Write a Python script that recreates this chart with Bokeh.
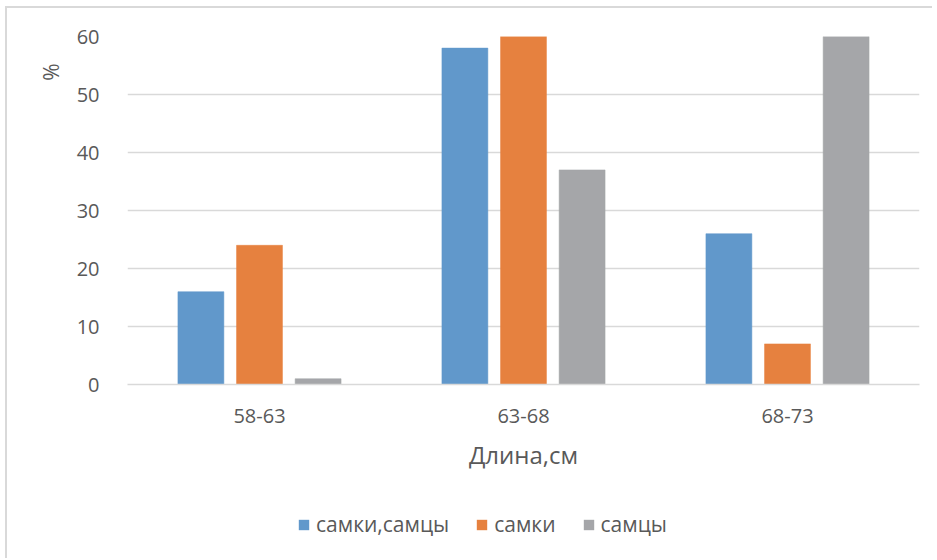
import math
from bokeh.plotting import figure
from bokeh.layouts import column
from bokeh.models import (FactorRange, Range1d, Legend, LegendItem, Title,
                          ColumnDataSource, FixedTicker)
from bokeh.transform import dodge
from bokeh.embed import file_html
from bokeh.resources import INLINE

categories = ["58-63", "63-68", "68-73"]
both_sexes = [16, 58, 26]     # самки,самцы
females = [24, 60, 7]         # самки
males = [1, 37, 60]           # самцы
series_names = ["самки,самцы", "самки", "самцы"]
y_ticks = [0, 10, 20, 30, 40, 50, 60]
x_title = "Длина,см"
y_title = "%"

colors = ["#6198CB", "#E6813F", "#A5A6A9"]
FONT = "Open Sans"
TXT = "#595959"

src = ColumnDataSource(dict(cat=categories, both=both_sexes, fem=females, mal=males))

p = figure(x_range=FactorRange(*categories, range_padding=0),
           y_range=Range1d(0, 60),
           width=925, height=470,
           output_backend="svg", toolbar_location=None,
           min_border_left=120, min_border_right=13,
           min_border_top=28, min_border_bottom=94)

offs = [-0.222, 0.0, 0.222]
cols = ["both", "fem", "mal"]
for c, o, col in zip(cols, offs, colors):
    p.vbar(x=dodge("cat", o, range=p.x_range), top=c, width=0.174,
           source=src, fill_color=col, line_color=col, line_width=0.5)

p.outline_line_color = None
p.xgrid.grid_line_color = None
p.ygrid.grid_line_color = "#d9d9d9"
p.ygrid.grid_line_width = 1.3

p.yaxis.ticker = FixedTicker(ticks=y_ticks)
p.yaxis.axis_line_color = None
p.yaxis.major_tick_line_color = None
p.yaxis.minor_tick_line_color = None
p.yaxis.major_label_standoff = 22
p.yaxis.major_label_text_font = FONT
p.yaxis.major_label_text_font_size = "20px"
p.yaxis.major_label_text_color = TXT

p.xaxis.axis_line_color = "#d9d9d9"
p.xaxis.axis_line_width = 1.5
p.xaxis.major_tick_line_color = None
p.xaxis.minor_tick_line_color = None
p.xaxis.major_label_standoff = 18
p.xaxis.major_label_text_font = FONT
p.xaxis.major_label_text_font_size = "20px"
p.xaxis.major_label_text_color = TXT
p.xaxis.axis_label = x_title
p.xaxis.axis_label_standoff = 12
p.xaxis.axis_label_text_font = FONT
p.xaxis.axis_label_text_font_size = "24px"
p.xaxis.axis_label_text_font_style = "normal"
p.xaxis.axis_label_text_color = TXT

ytitle = Title(text=y_title, align="right", offset=27, standoff=17,
               text_font=FONT, text_font_size="21px", text_font_style="normal",
               text_color=TXT)
p.add_layout(ytitle, "left")

# legend figure: the same series, drawn outside its visible y window, so only the legend shows
lg = figure(x_range=FactorRange(*categories, range_padding=0), y_range=Range1d(1000, 1001),
            width=925, height=80,
            output_backend="svg", toolbar_location=None,
            min_border_left=0, min_border_right=0, min_border_top=0, min_border_bottom=0)
lg.axis.visible = False
lg.grid.visible = False
lg.outline_line_color = None
lrends = []
for c, o, col in zip(cols, offs, colors):
    r = lg.vbar(x=dodge("cat", o, range=lg.x_range), top=c, width=0.174,
                source=src, fill_color=col, line_color=None)
    lrends.append(r)
legend = Legend(items=[LegendItem(label=n, renderers=[r]) for n, r in zip(series_names, lrends)],
                orientation="horizontal", location=(170, 20))
legend.border_line_color = None
legend.background_fill_alpha = 0
legend.glyph_width = 13
legend.glyph_height = 13
legend.label_standoff = 6
legend.spacing = 26
legend.padding = 0
legend.margin = 0
legend.label_text_font = FONT
legend.label_text_font_size = "21px"
legend.label_text_color = TXT
lg.add_layout(legend)

layout = column(p, lg, spacing=0,
                styles={"border-top": "2px solid #d9d9d9", "border-left": "2px solid #d9d9d9",
                        "margin-left": "5px", "margin-top": "6px"})

open("out.html", "w").write(file_html(layout, INLINE))
